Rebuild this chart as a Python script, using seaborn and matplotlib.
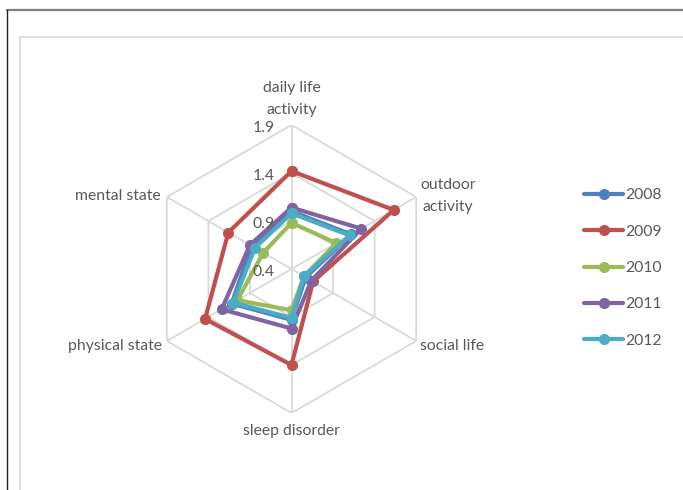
import numpy as np
import pandas as pd
import matplotlib
matplotlib.use("Agg")
import matplotlib.pyplot as plt
from matplotlib.lines import Line2D
import seaborn as sns

categories = ["daily life\nactivity", "outdoor\nactivity", "social life",
              "sleep disorder", "physical state", "mental state"]
years = ["2008", "2009", "2010", "2011", "2012"]
v2008 = [1.00, 1.12, 0.57, 0.93, 1.12, 0.88]
v2009 = [1.42, 1.63, 0.66, 1.40, 1.44, 1.16]
v2010 = [0.88, 0.94, 0.55, 0.83, 1.05, 0.74]
v2011 = [1.04, 1.24, 0.64, 1.02, 1.24, 0.90]
v2012 = [0.98, 1.10, 0.55, 0.91, 1.10, 0.84]
ticks = [0.4, 0.9, 1.4, 1.9]
colors = ["#4F81BD", "#C0504D", "#9BBB59", "#8064A2", "#4BACC6"]

sns.set_theme(style="white")
plt.rcParams["font.family"] = ["Lato", "DejaVu Sans"]
text_color = "#595959"
fs = 11.3

n = len(categories)
angles = np.linspace(0, 2 * np.pi, n, endpoint=False)
closed = np.append(angles, 2 * np.pi)

rows = []
for yr, vals in zip(years, [v2008, v2009, v2010, v2011, v2012]):
    for th, v in zip(closed, vals + vals[:1]):
        rows.append({"theta": th, "value": v, "year": yr})
df = pd.DataFrame(rows)

fig = plt.figure(figsize=(6.83, 4.90), dpi=100)
W, H = 683, 490
cx, cy, R = 291.5, 269, 144
ax = fig.add_axes([(cx - R) / W, (H - cy - R) / H, 2 * R / W, 2 * R / H],
                  projection="polar")
ax.set_theta_zero_location("N")
ax.set_theta_direction(-1)
ax.set_ylim(ticks[0], ticks[-1])
ax.grid(False)
ax.spines["polar"].set_visible(False)
ax.set_xticks([])
ax.set_yticks([])
ax.patch.set_alpha(0)

# hexagonal grid and spokes
for t in ticks[1:]:
    ax.plot(closed, [t] * (n + 1), color="#d9d9d9", lw=1.3, zorder=1)
for th in angles:
    ax.plot([th, th], [ticks[0], ticks[-1]], color="#d9d9d9", lw=1.3, zorder=1)

sns.lineplot(data=df, x="theta", y="value", hue="year", palette=colors,
             sort=False, estimator=None, marker="o", markersize=8,
             markeredgewidth=0, linewidth=3, ax=ax, legend=False, zorder=3)
ax.set_xlabel("")
ax.set_ylabel("")

# radial tick labels
for t in ticks:
    ax.annotate(f"{t:.1f}", xy=(0, t), xytext=(-12, -2), textcoords="offset points",
                ha="right", va="center", fontsize=fs, color=text_color,
                annotation_clip=False)

# category labels
label_pos = [(0, 2.17), (65, 2.20), (115.6, 2.25), (180, 2.09), (246.4, 2.41), (292.8, 2.36)]
for lab, (deg, r) in zip(categories, label_pos):
    ax.text(np.deg2rad(deg), r, lab, ha="center", va="center", fontsize=fs,
            color=text_color, linespacing=1.72, clip_on=False)

# legend
handles = [Line2D([], [], color=c, lw=3, marker="o", markersize=8, markeredgewidth=0)
           for c in colors]
leg = fig.legend(handles, years, loc="upper left",
                 bbox_to_anchor=(570 / W, 1 - 174 / H), frameon=False,
                 fontsize=fs, handlelength=2.5, handletextpad=0.15,
                 labelspacing=1.43, labelcolor=text_color)

# chart frame
fig.add_artist(Line2D([7 / W, 1], [1 - 10 / H, 1 - 10 / H], color="#7f7f7f", lw=1.6,
                      transform=fig.transFigure))
fig.add_artist(Line2D([7 / W, 7 / W], [0, 1 - 10 / H], color="#222222", lw=1.0,
                      transform=fig.transFigure))
fig.add_artist(Line2D([20 / W, 1], [1 - 37 / H, 1 - 37 / H], color="#d9d9d9", lw=1.2,
                      transform=fig.transFigure))
fig.add_artist(Line2D([20 / W, 20 / W], [0, 1 - 37 / H], color="#d9d9d9", lw=1.2,
                      transform=fig.transFigure))

fig.savefig("out.png", dpi=100, facecolor="white")
